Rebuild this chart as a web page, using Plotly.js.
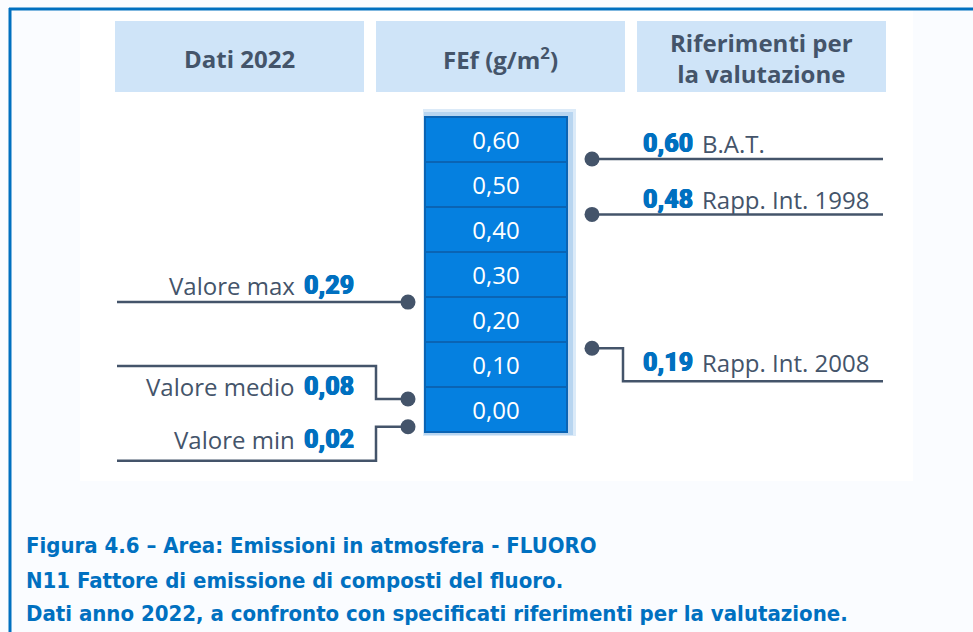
<!DOCTYPE html>
<html>
<head>
<meta charset="utf-8">
<script src="https://cdn.plot.ly/plotly-3.0.1.min.js"></script>
<style>
html,body{margin:0;padding:0;background:#fafcff;}
#chart{width:973px;height:632px;}
</style>
</head>
<body>
<div id="chart"></div>
<script>
// ---------- DATA ----------
const headerLabels = ['Dati 2022', 'FEf (g/m<sup>2</sup>)', 'Riferimenti per<br>la valutazione'];
const scaleValues = [0.00, 0.10, 0.20, 0.30, 0.40, 0.50, 0.60];
const dataLabels = ['Valore max', 'Valore medio', 'Valore min'];
const dataValues = [0.29, 0.08, 0.02];
const refLabels = ['B.A.T.', 'Rapp. Int. 1998', 'Rapp. Int. 2008'];
const refValues = [0.60, 0.48, 0.19];
const captionLines = [
  'Figura 4.6 – Area: Emissioni in atmosfera - FLUORO',
  'N11 Fattore di emissione di composti del fluoro.',
  'Dati anno 2022, a confronto con specificati riferimenti per la valutazione.'
];

// ---------- STYLE / LAYOUT ----------
const W = 973, H = 632;
const py = p => 1 - p / H;           // pixel row -> paper fraction
const fmt = v => v.toFixed(2).replace('.', ',');
const SLATE = '#44546a', BLUE = '#0070c0';
const FONT = '"Open Sans", "Noto Sans", sans-serif';
const NUMFONT = {family: 'Roboto, "Open Sans", sans-serif', size: 25, color: BLUE, weight: 900,
  shadow: '0.4px 0 0 #0070c0, -0.4px 0 0 #0070c0'};
const stackX = 496, stackW = 142;
const leftDotX = 408, rightDotX = 592;

const traces = [];
// scale stack
traces.push({
  type: 'bar',
  x: scaleValues.map(() => stackX),
  base: scaleValues.map(v => v - 0.05),
  y: scaleValues.map(() => 0.1),
  width: scaleValues.map(() => stackW),
  text: scaleValues.map(fmt),
  textposition: 'inside',
  insidetextanchor: 'middle',
  textangle: 0,
  constraintext: 'none',
  textfont: {family: FONT, size: 24, color: '#ffffff'},
  marker: {color: '#0580e0', line: {color: '#0a64b4', width: 2}},
  hoverinfo: 'skip',
  showlegend: false
});
// dots
traces.push({
  type: 'scatter', mode: 'markers', yaxis: 'y2',
  x: dataValues.map(() => leftDotX), y: dataValues,
  marker: {size: 15, color: SLATE}, hoverinfo: 'skip', showlegend: false
});
traces.push({
  type: 'scatter', mode: 'markers', yaxis: 'y2',
  x: refValues.map(() => rightDotX), y: refValues,
  marker: {size: 15, color: SLATE}, hoverinfo: 'skip', showlegend: false
});

const shapes = [];
// white panel
shapes.push({type: 'rect', xref: 'x', yref: 'paper', x0: 80, x1: 913, y0: py(481), y1: py(10),
  fillcolor: '#ffffff', line: {width: 0}, layer: 'below'});
// frame lines
shapes.push({type: 'line', xref: 'x', yref: 'paper', x0: 9, x1: W, y0: py(9), y1: py(9),
  line: {color: BLUE, width: 3}});
shapes.push({type: 'line', xref: 'x', yref: 'paper', x0: 10, x1: 10, y0: py(8), y1: 0,
  line: {color: BLUE, width: 3}});
// header boxes
const boxes = [[115, 364], [376, 625], [637, 886]];
boxes.forEach(b => shapes.push({type: 'rect', xref: 'x', yref: 'paper', x0: b[0], x1: b[1],
  y0: py(92), y1: py(21), fillcolor: '#cfe4f8', line: {width: 0}, layer: 'below'}));
// soft glow behind stack
shapes.push({type: 'rect', xref: 'x', yref: 'paper', x0: 423, x1: 576, y0: py(436), y1: py(109),
  fillcolor: '#dbeaf8', line: {width: 0}, layer: 'below'});
shapes.push({type: 'rect', xref: 'x', yref: 'paper', x0: 424, x1: 573, y0: py(435), y1: py(112),
  fillcolor: '#b8d5f0', line: {width: 0}, layer: 'below'});

// connectors (pixel offsets relative to each value)
const leftPaths = [
  'M117,0 H' + leftDotX,
  'M117,33 H376 V0 H' + leftDotX,
  'M' + leftDotX + ',0 H376 V-34 H117'
];
const rightPaths = [
  'M' + rightDotX + ',0 H883',
  'M' + rightDotX + ',0 H883',
  'M' + rightDotX + ',0 H623 V-33 H883'
];
dataValues.forEach((v, i) => shapes.push({type: 'path', xref: 'x', yref: 'y2', ysizemode: 'pixel',
  yanchor: v, path: leftPaths[i], line: {color: SLATE, width: 2.5}}));
refValues.forEach((v, i) => shapes.push({type: 'path', xref: 'x', yref: 'y2', ysizemode: 'pixel',
  yanchor: v, path: rightPaths[i], line: {color: SLATE, width: 2.5}}));

const annotations = [];
const boxCenters = boxes.map(b => (b[0] + b[1]) / 2);
headerLabels.forEach((t, i) => annotations.push({xref: 'x', yref: 'paper', x: boxCenters[i], y: py(58),
  text: '<b>' + t + '</b>', showarrow: false, xanchor: 'center', yanchor: 'middle',
  font: {family: FONT, size: 24, color: SLATE}}));

// left callouts: label right-aligned, number starting after it
const leftShift = [17, 13, -13];
dataLabels.forEach((t, i) => {
  annotations.push({xref: 'x', yref: 'y2', x: 297, y: dataValues[i], yshift: leftShift[i],
    xanchor: 'right', yanchor: 'middle', showarrow: false, text: t,
    font: {family: FONT, size: 24, color: SLATE}});
  annotations.push({xref: 'x', yref: 'y2', x: 302, y: dataValues[i], yshift: leftShift[i],
    xanchor: 'left', yanchor: 'middle', showarrow: false, text: fmt(dataValues[i]), font: NUMFONT});
});
// right callouts: number then label
const rightShift = [16, 15, -14];
refLabels.forEach((t, i) => {
  annotations.push({xref: 'x', yref: 'y2', x: 641, y: refValues[i], yshift: rightShift[i],
    xanchor: 'left', yanchor: 'middle', showarrow: false, text: fmt(refValues[i]), font: NUMFONT});
  annotations.push({xref: 'x', yref: 'y2', x: 700, y: refValues[i], yshift: rightShift[i],
    xanchor: 'left', yanchor: 'middle', showarrow: false, text: t,
    font: {family: FONT, size: 24, color: SLATE}});
});

const capY = [545, 580, 613];
captionLines.forEach((t, i) => annotations.push({xref: 'x', yref: 'paper', x: 24, y: py(capY[i]),
  xanchor: 'left', yanchor: 'middle', showarrow: false, text: '<b>' + t + '</b>',
  font: {family: '"DejaVu Sans Condensed", sans-serif', size: 22, color: BLUE}}));

const layout = {
  width: W, height: H,
  margin: {l: 0, r: 0, t: 0, b: 0, pad: 0},
  paper_bgcolor: '#fafcff', plot_bgcolor: 'rgba(0,0,0,0)',
  barmode: 'overlay', bargap: 0,
  showlegend: false, hovermode: false,
  xaxis: {range: [0, W], domain: [0, 1], visible: false, fixedrange: true},
  // full-height axes: scale stack 450 px per unit, callouts ~462 px per unit
  yaxis: {range: [-0.49444, 0.91], domain: [0, 1], visible: false, fixedrange: true},
  yaxis2: {range: [-0.42455, 0.94440], overlaying: 'y', visible: false, fixedrange: true},
  shapes: shapes,
  annotations: annotations
};

Plotly.newPlot('chart', traces, layout, {displayModeBar: false, staticPlot: true});
</script>
</body>
</html>
